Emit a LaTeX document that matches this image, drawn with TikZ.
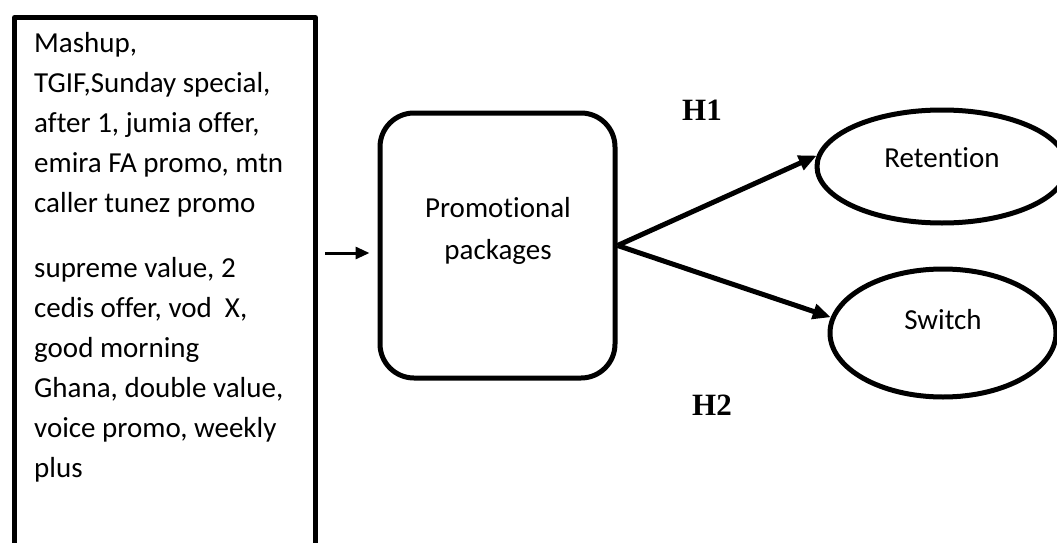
\documentclass[tikz,border=0pt]{standalone}
\usepackage{fontspec}
\setmainfont{Carlito}[Ligatures={NoCommon,NoContextual,NoRequired}]
\newfontfamily\hfont{Liberation Serif}
\usetikzlibrary{arrows.meta,shapes.geometric,calc}
\begin{document}
\begin{tikzpicture}[x=1pt,y=-1pt,line join=round,
  thickline/.style={draw,line width=5pt},
  bigarrow/.style={line width=5pt,-{Triangle[length=18pt,width=15pt]}},
  smallarrow/.style={line width=3pt,-{Triangle[length=14pt,width=12pt]}},
  bodytext/.style={font=\fontsize{29}{40}\selectfont,inner sep=0pt},
  hyp/.style={font=\hfont\bfseries\fontsize{31}{34}\selectfont,inner sep=0pt},
  oval/.style={thickline,ellipse,inner sep=0pt}]
\useasboundingbox (0,0) rectangle (1057,543);
% left box
\node[thickline,rectangle,anchor=north west,minimum width=301pt,minimum height=600pt,inner sep=0pt] (list) at (12,15) {};
\node[bodytext,anchor=north west,align=left] (listtext) at (34,32)
  {Mashup,\\TGIF,Sunday special,\\after 1, jumia offer,\\emira FA promo, mtn\\caller tunez promo\\[25pt]
   supreme value, 2\\cedis offer, vod\ \ X,\\good morning\\Ghana, double value,\\voice promo, weekly\\plus};
% promotional packages
\node[thickline,rectangle,rounded corners=34pt,minimum width=235pt,minimum height=265pt,inner sep=0pt] (pp) at (497.5,245.5) {};
\node[bodytext,align=center,font=\fontsize{29}{42}\selectfont] (pptext) at (498,231) {Promotional\\packages};
% outcomes
\node[oval,minimum width=250pt,minimum height=113pt] (ret) at (942,166.5) {};
\node[bodytext] (rettext) at (942,158) {Retention};
\node[oval,minimum width=226pt,minimum height=128pt] (sw) at (943,333) {};
\node[bodytext] (swtext) at (943,320) {Switch};
% hypotheses
\node[hyp] (h1) at (702,110) {H1};
\node[hyp] (h2) at (712,405) {H2};
% connectors
\coordinate (in) at (325,253);
\draw[smallarrow] (in) -- ($(pp.west|-in)+(-8,0)$);
\draw[bigarrow] (pp.east) -- (ret.175);
\draw[bigarrow] (pp.east) -- (sw.172);
\end{tikzpicture}
\end{document}
